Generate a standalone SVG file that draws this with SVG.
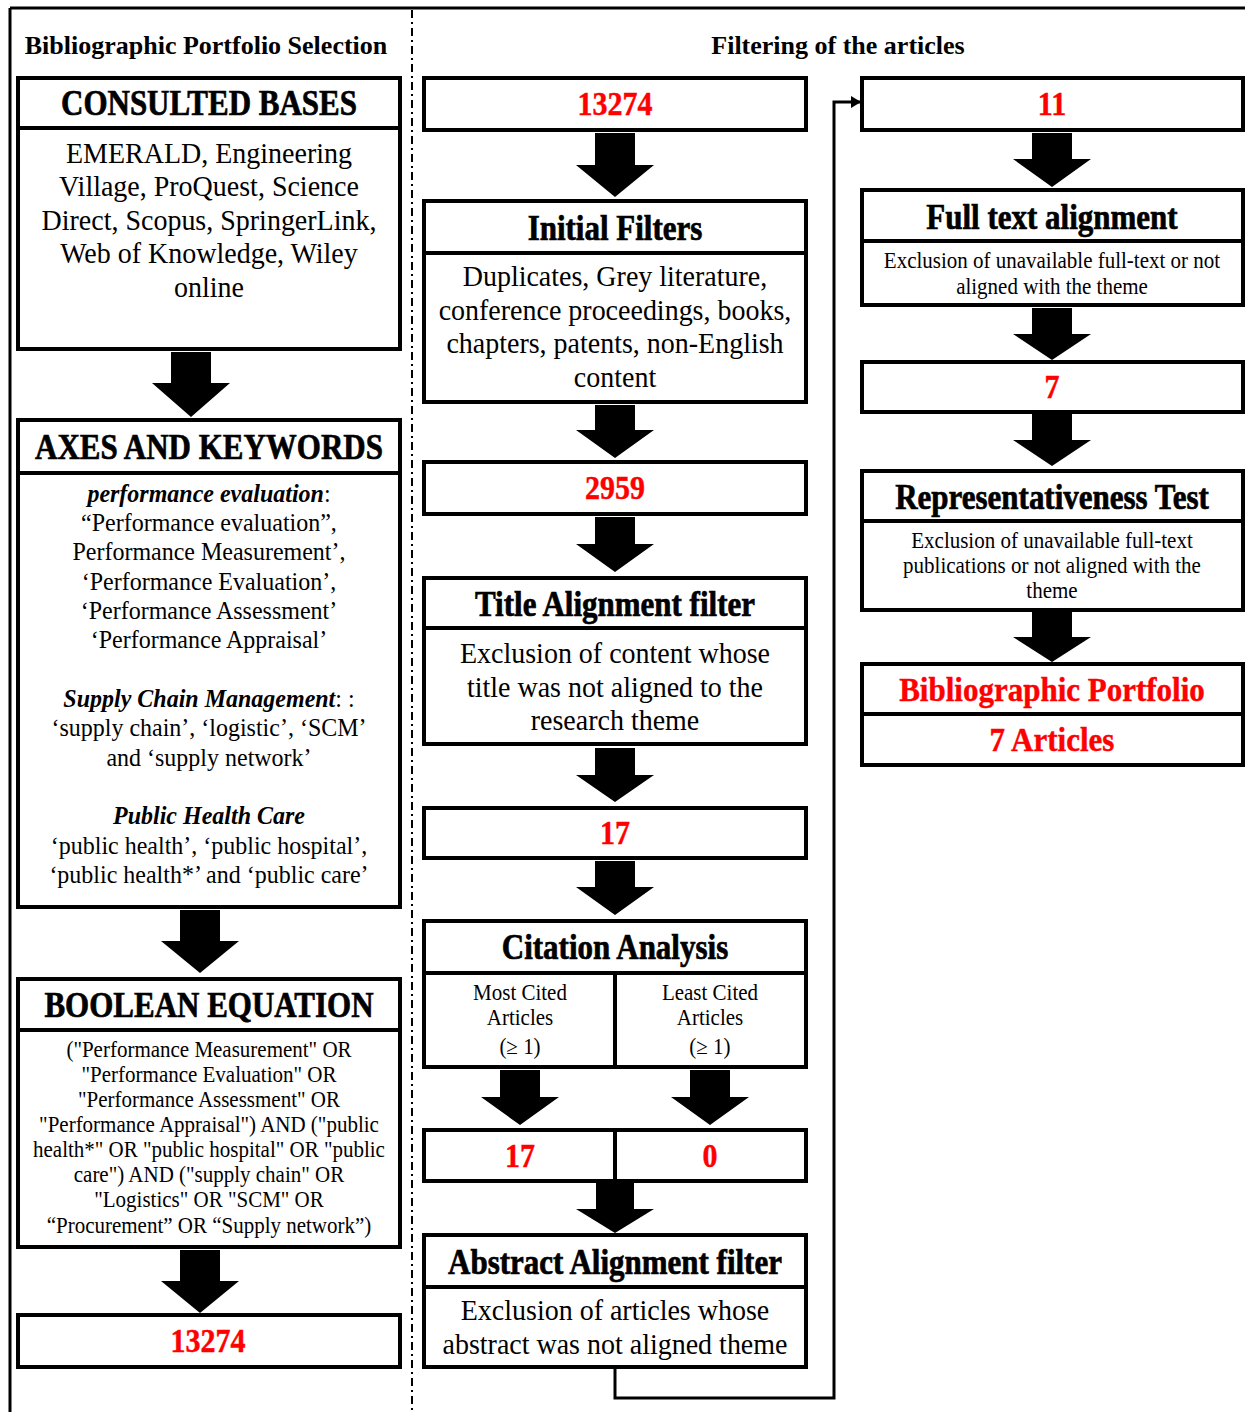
<svg xmlns="http://www.w3.org/2000/svg" width="1245" height="1412" viewBox="0 0 1245 1412">
<defs>
<style>
text{font-family:"Liberation Serif","Times New Roman",serif;text-anchor:middle;fill:#000}
.box{fill:#fff;stroke:#000;stroke-width:4}
.div{stroke:#000;stroke-width:4;fill:none}
.arr{fill:#000}
.lbl{font-size:26px;font-weight:bold}
.h{font-size:31px;font-weight:bold;stroke:#000;stroke-width:0.6px;transform-box:fill-box;transform-origin:center;transform:scaleY(1.15)}
.n{font-size:30px;font-weight:bold;fill:#ff0000;stroke:#ff0000;stroke-width:0.4px;transform-box:fill-box;transform-origin:center;transform:scaleY(1.12)}
.b{font-size:28px;transform-box:fill-box;transform-origin:center;transform:scaleY(1.05)}
.k{font-size:24px;transform-box:fill-box;transform-origin:center;transform:scaleY(1.05)}
.s{font-size:21px;transform-box:fill-box;transform-origin:center;transform:scaleY(1.05)}
.bi{font-weight:bold;font-style:italic}
</style>
<marker id="ah" markerWidth="10" markerHeight="12" refX="9" refY="6" orient="auto" markerUnits="userSpaceOnUse">
<path d="M0,0 L10,6 L0,12 Z" fill="#000"/>
</marker>
</defs>
<rect x="0" y="0" width="1245" height="1412" fill="#fff"/>
<g id="frame">
<line x1="10" y1="8" x2="1245" y2="8" stroke="#000" stroke-width="3"/>
<line x1="10" y1="8" x2="10" y2="1412" stroke="#000" stroke-width="3"/>
<line x1="412" y1="10" x2="412" y2="1412" stroke="#000" stroke-width="2" stroke-dasharray="8 4 2 4"/>
<text class="lbl" x="206" y="54">Bibliographic Portfolio Selection</text>
<text class="lbl" x="838" y="54">Filtering of the articles</text>
</g>

<g id="consulted-bases">
<rect class="box" x="18" y="78" width="382" height="271"/>
<line class="div" x1="18" y1="128" x2="400" y2="128"/>
<text class="h" x="209" y="113">CONSULTED BASES</text>
<text class="b" x="209" y="163">EMERALD, Engineering</text>
<text class="b" x="209" y="196">Village, ProQuest, Science</text>
<text class="b" x="209" y="230">Direct, Scopus, SpringerLink,</text>
<text class="b" x="209" y="263">Web of Knowledge, Wiley</text>
<text class="b" x="209" y="297">online</text>
</g>

<g id="axes-keywords">
<rect class="box" x="18" y="420" width="382" height="487"/>
<line class="div" x1="18" y1="473" x2="400" y2="473"/>
<text class="h" x="209" y="457">AXES AND KEYWORDS</text>
<text class="k" x="209" y="502"><tspan class="bi">performance evaluation</tspan>:</text>
<text class="k" x="209" y="531">“Performance evaluation”,</text>
<text class="k" x="209" y="560">Performance Measurement’,</text>
<text class="k" x="209" y="590">‘Performance Evaluation’,</text>
<text class="k" x="209" y="619">‘Performance Assessment’</text>
<text class="k" x="209" y="648">‘Performance Appraisal’</text>
<text class="k" x="209" y="707"><tspan class="bi">Supply Chain Management</tspan>: :</text>
<text class="k" x="209" y="736">‘supply chain’, ‘logistic’, ‘SCM’</text>
<text class="k" x="209" y="766">and ‘supply network’</text>
<text class="k" x="209" y="824"><tspan class="bi">Public Health Care</tspan></text>
<text class="k" x="209" y="854">‘public health’, ‘public hospital’,</text>
<text class="k" x="209" y="883">‘public health*’ and ‘public care’</text>
</g>

<g id="boolean-equation">
<rect class="box" x="18" y="979" width="382" height="268"/>
<line class="div" x1="18" y1="1030" x2="400" y2="1030"/>
<text class="h" x="209" y="1015">BOOLEAN EQUATION</text>
<text class="s" x="209" y="1057">("Performance Measurement" OR</text>
<text class="s" x="209" y="1082">"Performance Evaluation" OR</text>
<text class="s" x="209" y="1107">"Performance Assessment" OR</text>
<text class="s" x="209" y="1132">"Performance Appraisal") AND ("public</text>
<text class="s" x="209" y="1157">health*" OR "public hospital" OR "public</text>
<text class="s" x="209" y="1182">care") AND ("supply chain" OR</text>
<text class="s" x="209" y="1207">"Logistics" OR "SCM" OR</text>
<text class="s" x="209" y="1233">“Procurement” OR “Supply network”)</text>
</g>

<g id="left-13274">
<rect class="box" x="18" y="1315" width="382" height="52"/>
<text class="n" x="208" y="1351">13274</text>
</g>

<g id="mid-13274">
<rect class="box" x="424" y="78" width="382" height="52"/>
<text class="n" x="615" y="114">13274</text>
</g>

<g id="initial-filters">
<rect class="box" x="424" y="201" width="382" height="201"/>
<line class="div" x1="424" y1="253" x2="806" y2="253"/>
<text class="h" x="615" y="238">Initial Filters</text>
<text class="b" x="615" y="286">Duplicates, Grey literature,</text>
<text class="b" x="615" y="320">conference proceedings, books,</text>
<text class="b" x="615" y="353">chapters, patents, non-English</text>
<text class="b" x="615" y="387">content</text>
</g>

<g id="mid-2959">
<rect class="box" x="424" y="462" width="382" height="52"/>
<text class="n" x="615" y="498">2959</text>
</g>

<g id="title-alignment">
<rect class="box" x="424" y="578" width="382" height="166"/>
<line class="div" x1="424" y1="628" x2="806" y2="628"/>
<text class="h" x="615" y="614">Title Alignment filter</text>
<text class="b" x="615" y="663">Exclusion of content whose</text>
<text class="b" x="615" y="697">title was not aligned to the</text>
<text class="b" x="615" y="730">research theme</text>
</g>

<g id="mid-17">
<rect class="box" x="424" y="808" width="382" height="50"/>
<text class="n" x="615" y="843">17</text>
</g>

<g id="citation-analysis">
<rect class="box" x="424" y="921" width="382" height="146"/>
<line class="div" x1="424" y1="973" x2="806" y2="973"/>
<line class="div" x1="615" y1="973" x2="615" y2="1067"/>
<text class="h" x="615" y="957">Citation Analysis</text>
<text class="s" x="520" y="1000">Most Cited</text>
<text class="s" x="520" y="1025">Articles</text>
<text class="s" x="520" y="1054">(≥ 1)</text>
<text class="s" x="710" y="1000">Least Cited</text>
<text class="s" x="710" y="1025">Articles</text>
<text class="s" x="710" y="1054">(≥ 1)</text>
</g>

<g id="split-17-0">
<rect class="box" x="424" y="1130" width="382" height="51"/>
<line class="div" x1="615" y1="1130" x2="615" y2="1181"/>
<text class="n" x="520" y="1166">17</text>
<text class="n" x="710" y="1166">0</text>
</g>

<g id="abstract-alignment">
<rect class="box" x="424" y="1235" width="382" height="132"/>
<line class="div" x1="424" y1="1287" x2="806" y2="1287"/>
<text class="h" x="615" y="1272">Abstract Alignment filter</text>
<text class="b" x="615" y="1320">Exclusion of articles whose</text>
<text class="b" x="615" y="1354">abstract was not aligned theme</text>
</g>

<g id="right-11">
<rect class="box" x="862" y="78" width="381" height="52"/>
<text class="n" x="1052" y="114">11</text>
</g>

<g id="full-text-alignment">
<rect class="box" x="862" y="190" width="381" height="115"/>
<line class="div" x1="862" y1="241" x2="1243" y2="241"/>
<text class="h" x="1052" y="227">Full text alignment</text>
<text class="s" x="1052" y="268">Exclusion of unavailable full-text or not</text>
<text class="s" x="1052" y="294">aligned with the theme</text>
</g>

<g id="right-7">
<rect class="box" x="862" y="362" width="381" height="50"/>
<text class="n" x="1052" y="397">7</text>
</g>

<g id="representativeness-test">
<rect class="box" x="862" y="471" width="381" height="139"/>
<line class="div" x1="862" y1="521" x2="1243" y2="521"/>
<text class="h" x="1052" y="507">Representativeness Test</text>
<text class="s" x="1052" y="548">Exclusion of unavailable full-text</text>
<text class="s" x="1052" y="573">publications or not aligned with the</text>
<text class="s" x="1052" y="598">theme</text>
</g>

<g id="bibliographic-portfolio">
<rect class="box" x="862" y="664" width="381" height="101"/>
<line class="div" x1="862" y1="714" x2="1243" y2="714"/>
<text class="n" x="1052" y="700" style="font-size:31px">Bibliographic Portfolio</text>
<text class="n" x="1052" y="750" style="font-size:31px">7 Articles</text>
</g>

<g id="connectors">
<path class="arr" d="M171,352 H211 V383 H230 L191,417 L152,383 H171 Z"/>
<path class="arr" d="M180,910 H220 V941 H239 L200,973 L161,941 H180 Z"/>
<path class="arr" d="M180,1250 H220 V1281 H239 L200,1313 L161,1281 H180 Z"/>
<path class="arr" d="M595,133 H635 V165 H654 L615,197 L576,165 H595 Z"/>
<path class="arr" d="M595,405 H635 V430 H654 L615,458 L576,430 H595 Z"/>
<path class="arr" d="M595,517 H635 V544 H654 L615,572 L576,544 H595 Z"/>
<path class="arr" d="M595,748 H635 V775 H654 L615,802 L576,775 H595 Z"/>
<path class="arr" d="M595,861 H635 V887 H654 L615,915 L576,887 H595 Z"/>
<path class="arr" d="M500,1070 H540 V1097 H559 L520,1125 L481,1097 H500 Z"/>
<path class="arr" d="M690,1070 H730 V1097 H749 L710,1125 L671,1097 H690 Z"/>
<path class="arr" d="M596,1183 H634 V1209 H654 L615,1233 L576,1209 H596 Z"/>
<path class="arr" d="M1032,133 H1072 V159 H1091 L1052,187 L1013,159 H1032 Z"/>
<path class="arr" d="M1032,308 H1072 V334 H1091 L1052,360 L1013,334 H1032 Z"/>
<path class="arr" d="M1032,414 H1072 V440 H1091 L1052,466 L1013,440 H1032 Z"/>
<path class="arr" d="M1032,612 H1072 V637 H1091 L1052,662 L1013,637 H1032 Z"/>
<polyline points="615,1367 615,1398 834,1398 834,102 860,102" fill="none" stroke="#000" stroke-width="3" marker-end="url(#ah)"/>
</g>
</svg>
